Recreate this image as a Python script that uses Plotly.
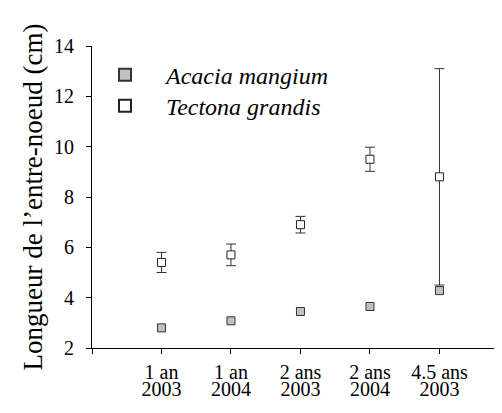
import plotly.graph_objects as go

categories_line1 = ["1 an", "1 an", "2 ans", "2 ans", "4.5 ans"]
categories_line2 = ["2003", "2004", "2003", "2004", "2003"]
acacia = [2.8, 3.08, 3.45, 3.65, 4.28]
tectona = [5.4, 5.7, 6.9, 9.5, 8.8]
tectona_err = [0.4, 0.43, 0.33, 0.48, 4.3]
y_ticks = [2, 4, 6, 8, 10, 12, 14]

x = list(range(1, len(categories_line1) + 1))
FONT = "Liberation Serif, serif"

fig = go.Figure()
fig.add_trace(go.Scatter(
    x=x, y=tectona, mode="markers", name="Tectona grandis", legend="legend2",
    marker=dict(symbol="square", size=8, color="white", line=dict(color="#222", width=1)),
    error_y=dict(type="data", array=tectona_err, visible=True, color="#333", thickness=1, width=5),
))
fig.add_trace(go.Scatter(
    x=x, y=acacia, mode="markers", name="Acacia mangium", legend="legend",
    marker=dict(symbol="square", size=8, color="#c0c0c0", line=dict(color="#333", width=1)),
))
# second line of tick labels
fig.add_trace(go.Scatter(x=x, y=acacia, xaxis="x2", mode="markers",
                         marker=dict(opacity=0), showlegend=False, hoverinfo="skip"))

tickfont = dict(family=FONT, size=20, color="black")
legend_common = dict(x=-0.0195, xanchor="left", yanchor="top",
                     font=dict(family=FONT, size=24, style="italic"), bgcolor="rgba(0,0,0,0)",
                     itemsizing="constant", itemwidth=72)
fig.update_layout(
    width=494, height=405,
    margin=dict(l=84, r=0, t=38, b=65, pad=0, autoexpand=False),
    paper_bgcolor="white", plot_bgcolor="white",
    font=dict(family=FONT, size=20, color="black"),
    showlegend=True,
    legend=dict(y=0.978, **legend_common),
    legend2=dict(y=0.8754, **legend_common),
    xaxis=dict(range=[0, 5.9], tickvals=[0] + x, ticktext=[""] + categories_line1,
               showline=True, linecolor="black", linewidth=1, ticks="outside", ticklen=5,
               tickcolor="black", showgrid=False, zeroline=False, ticklabelstandoff=1,
               tickfont=tickfont, automargin=False),
    xaxis2=dict(range=[0, 5.9], tickvals=x, ticktext=categories_line2, overlaying="x",
                side="bottom", showline=False, ticks="", showgrid=False, zeroline=False,
                ticklabelstandoff=27, tickfont=tickfont, automargin=False),
    yaxis=dict(range=[2, 14], tickvals=y_ticks, showline=True, linecolor="black", linewidth=1,
               ticks="outside", ticklen=5, tickcolor="black", showgrid=False, zeroline=False,
               tickfont=tickfont, automargin=False, ticklabelstandoff=8,
               title=dict(text="Longueur de l\u2019entre-noeud (cm)",
                          font=dict(family=FONT, size=27), standoff=3)),
)
fig.write_html("out.html")
